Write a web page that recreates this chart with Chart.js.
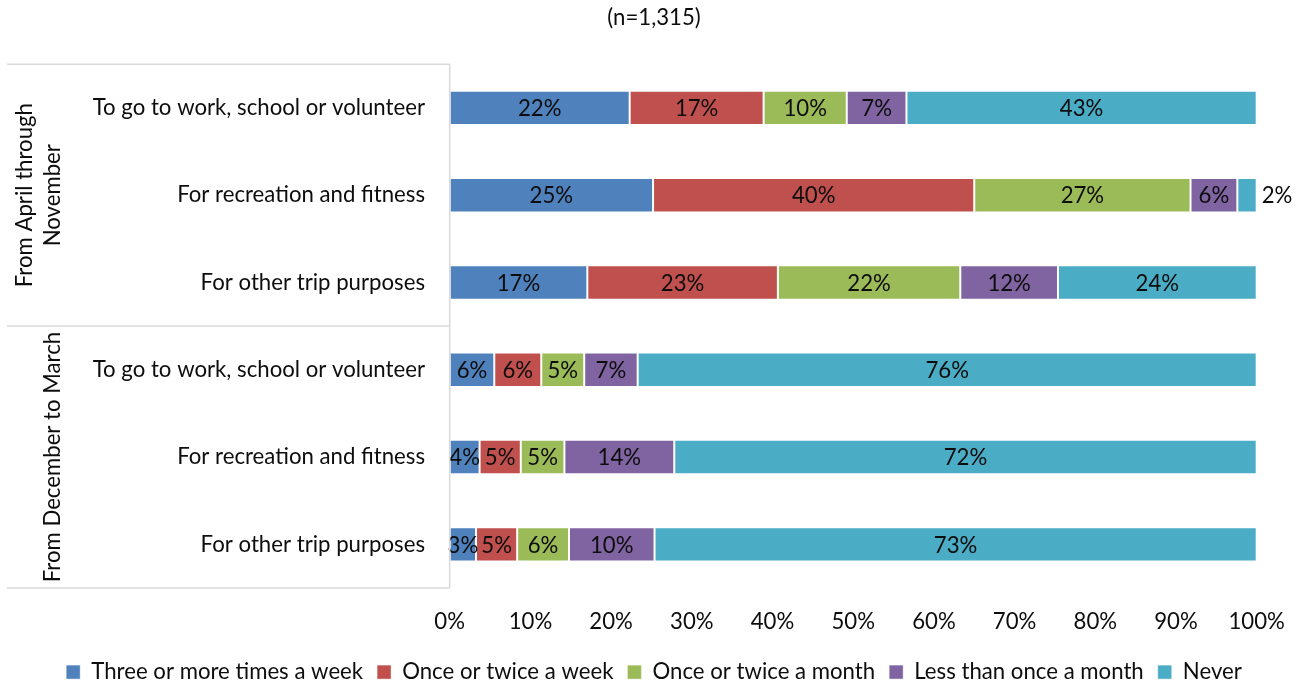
<!DOCTYPE html>
<html><head><meta charset="utf-8">
<script src="https://cdn.jsdelivr.net/npm/chart.js@4.4.0/dist/chart.umd.min.js"></script>
<style>html,body{margin:0;padding:0;background:#fff}#wrap{width:1308px;height:688px;position:relative}</style>
</head><body><div id="wrap"><canvas id="c" width="1308" height="688"></canvas></div>
<script>
// ---- data ----
const categories = [
  'To go to work, school or volunteer',
  'For recreation and fitness',
  'For other trip purposes',
  'To go to work, school or volunteer',
  'For recreation and fitness',
  'For other trip purposes'
];
const groupLines = [['From April through', 'November'], ['From December to March']];
const groupSizes = [3, 3];
const seriesNames = ['Three or more times a week', 'Once or twice a week', 'Once or twice a month', 'Less than once a month', 'Never'];
const threePlusWeek  = [22.3, 25.2, 16.9, 5.5, 3.7, 3.2];
const onceTwiceWeek  = [16.6, 39.8, 23.4, 5.8, 5.1, 5.0];
const onceTwiceMonth = [10.3, 26.8, 22.4, 5.3, 5.4, 6.3];
const lessThanMonth  = [7.4, 5.8, 12.0, 6.6, 13.6, 10.4];
const never          = [43.4, 2.4, 24.4, 76.4, 72.1, 73.2];
const xTicks = [0, 10, 20, 30, 40, 50, 60, 70, 80, 90, 100];
const titleText = '(n=1,315)';

// ---- styles ----
const colors = ['#4F81BD', '#C0504D', '#9BBB59', '#8064A2', '#4BACC6'];
const FONT = 'Lato';
const FS = 22.2;
const raw = [threePlusWeek, onceTwiceWeek, onceTwiceMonth, lessThanMonth, never];
const rowTotals = categories.map((_, i) => raw.reduce((s, a) => s + a[i], 0));

const datasets = raw.map((arr, k) => ({
  label: seriesNames[k],
  data: arr.map((v, i) => v / rowTotals[i] * 100),
  rawValues: arr,
  backgroundColor: colors[k],
  borderColor: 'rgba(255,255,255,0.45)',
  borderWidth: 1,
  borderSkipped: false,
  categoryPercentage: 1,
  barPercentage: 0.394
}));

const frameAndGroups = {
  id: 'frameAndGroups',
  afterDraw(chart) {
    const ctx = chart.ctx, ca = chart.chartArea, y = chart.scales.y;
    ctx.save();
    ctx.strokeStyle = '#d9d9d9';
    ctx.lineWidth = 1.5;
    const xl = 7;
    let idx = 0;
    const bounds = [ca.top];
    groupSizes.forEach(n => { idx += n; bounds.push(idx >= categories.length ? ca.bottom : (y.getPixelForValue(idx - 1) + y.getPixelForValue(idx)) / 2); });
    ctx.beginPath();
    bounds.forEach(b => { ctx.moveTo(xl, b); ctx.lineTo(ca.left, b); });
    ctx.moveTo(ca.left, ca.top); ctx.lineTo(ca.left, ca.bottom);
    ctx.stroke();
    ctx.fillStyle = '#0d0d0d';
    ctx.font = FS + 'px ' + FONT;
    ctx.textAlign = 'center';
    ctx.textBaseline = 'middle';
    groupLines.forEach((lines, g) => {
      const cy = (bounds[g] + bounds[g + 1]) / 2;
      lines.forEach((t, li) => {
        const cx = 53 - (lines.length - 1 - li) * 28;
        ctx.save();
        ctx.translate(cx, cy);
        ctx.rotate(-Math.PI / 2);
        ctx.fillText(t, 0, 0);
        ctx.restore();
      });
    });
    ctx.restore();
  }
};

const barLabels = {
  id: 'barLabels',
  afterDatasetsDraw(chart) {
    const ctx = chart.ctx;
    ctx.save();
    ctx.font = FS + 'px ' + FONT;
    ctx.fillStyle = '#0d0d0d';
    ctx.textBaseline = 'middle';
    chart.data.datasets.forEach((ds, di) => {
      const meta = chart.getDatasetMeta(di);
      meta.data.forEach((bar, i) => {
        const txt = Math.round(ds.rawValues[i]) + '%';
        const w = ctx.measureText(txt).width;
        const left = Math.min(bar.x, bar.base), right = Math.max(bar.x, bar.base);
        if (di === chart.data.datasets.length - 1 && right - left < w) {
          ctx.textAlign = 'left';
          ctx.fillText(txt, right + 5, bar.y + 1);
        } else {
          ctx.textAlign = 'center';
          ctx.fillText(txt, (left + right) / 2, bar.y + 1);
        }
      });
    });
    ctx.restore();
  }
};

Chart.defaults.font.family = FONT;
Chart.defaults.font.size = FS;
Chart.defaults.color = '#0d0d0d';

new Chart(document.getElementById('c'), {
  type: 'bar',
  data: { labels: categories, datasets },
  options: {
    indexAxis: 'y',
    responsive: false,
    animation: false,
    layout: { padding: 0 },
    scales: {
      x: {
        stacked: true, min: 0, max: 100,
        afterBuildTicks(s) { s.ticks = xTicks.map(v => ({ value: v })); },
        ticks: { padding: 20.5, callback: v => v + '%', color: '#0d0d0d', font: { size: FS } },
        grid: { display: false, drawTicks: false },
        border: { display: false },
        afterFit(s) { const lg = s.chart.legend ? s.chart.legend.height : 41; s.height = 688 - 588 - lg; }
      },
      y: {
        stacked: true,
        ticks: { padding: 24.7, color: '#0d0d0d', font: { size: FS }, autoSkip: false },
        grid: { display: false, drawTicks: false },
        border: { display: false },
        afterFit(s) { s.width = 449.7; }
      },
      yRight: {
        type: 'linear', position: 'right', display: true,
        ticks: { display: false },
        grid: { display: false, drawTicks: false },
        border: { display: false },
        afterFit(s) { s.width = 51.3; }
      }
    },
    plugins: {
      title: { display: true, text: titleText, color: '#0d0d0d', font: { size: FS, weight: 'normal' }, padding: { top: 4.8, bottom: 32.8 } },
      legend: {
        position: 'bottom',
        maxHeight: 41,
        labels: { boxWidth: 14, boxHeight: 14, padding: 14, color: '#0d0d0d', font: { size: FS } }
      },
      tooltip: { enabled: false }
    }
  },
  plugins: [frameAndGroups, barLabels]
});
</script>
</body></html>
